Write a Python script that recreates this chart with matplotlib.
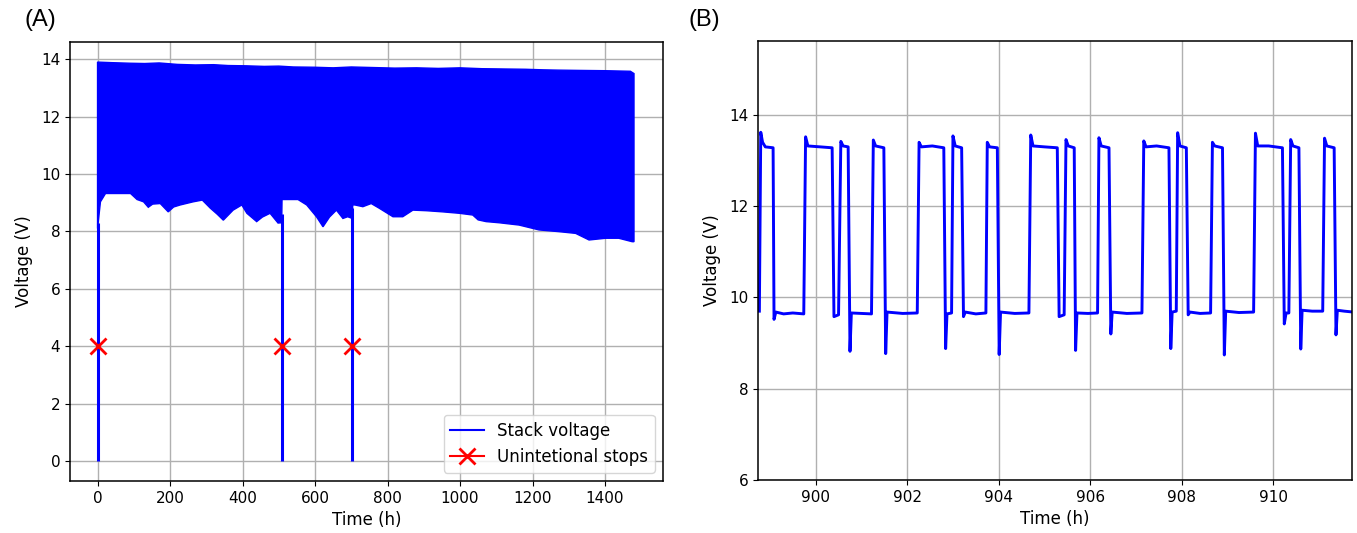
import numpy as np
import matplotlib
matplotlib.use("Agg")
import matplotlib.pyplot as plt
from matplotlib.lines import Line2D

plt.rcParams['font.family'] = ['DejaVu Sans']
plt.rcParams['font.size'] = 11

# (A) whole test: envelope of the stack voltage (time h, voltage V)
upper_env = [(0, 13.90), (40, 13.88), (90, 13.86), (130, 13.85), (170, 13.87), (220, 13.82),
             (270, 13.80), (320, 13.81), (360, 13.78), (410, 13.77), (460, 13.75), (500, 13.76),
             (540, 13.73), (600, 13.72), (650, 13.70), (700, 13.73), (760, 13.71), (820, 13.69),
             (880, 13.70), (940, 13.68), (1000, 13.70), (1060, 13.67), (1120, 13.66), (1180, 13.65),
             (1230, 13.63), (1270, 13.62), (1330, 13.61), (1400, 13.60), (1470, 13.58), (1480, 13.50)]
lower_env = [(0, 8.10), (8, 9.03), (22, 9.32), (58, 9.32), (91, 9.32), (109, 9.11), (127, 9.03),
             (140, 8.84), (152, 8.95), (173, 8.97), (195, 8.68), (210, 8.85), (228, 8.92),
             (264, 9.03), (289, 9.09), (311, 8.81), (330, 8.60), (347, 8.39), (374, 8.74),
             (398, 8.92), (412, 8.63), (439, 8.34), (455, 8.50), (476, 8.63), (498, 8.29),
             (508, 8.30), (509, 9.11), (522, 9.11), (553, 9.11), (577, 8.92), (604, 8.51),
             (622, 8.16), (640, 8.50), (659, 8.74), (677, 8.45), (690, 8.51), (703, 8.45),
             (704, 8.92), (710, 8.92), (732, 8.86), (755, 8.97), (778, 8.80), (815, 8.51),
             (842, 8.51), (870, 8.74), (907, 8.72), (952, 8.68), (998, 8.63), (1035, 8.57),
             (1050, 8.40), (1072, 8.34), (1108, 8.30), (1163, 8.22), (1218, 8.05), (1273, 7.99),
             (1319, 7.93), (1356, 7.70), (1402, 7.76), (1438, 7.76), (1475, 7.64), (1480, 7.64)]
stop_t = [0, 508, 703]
stop_v = [4, 4, 4]
stop_top = [8.3, 8.6, 8.8]

# (B) zoom 898.8 - 911.7 h
zoom_trace = [(898.77, 9.70), (898.80, 13.62), (898.84, 13.40), (898.90, 13.30), (899.07, 13.28),
              (899.09, 9.52), (899.13, 9.68), (899.30, 9.64), (899.50, 9.66), (899.74, 9.64),
              (899.78, 13.52), (899.83, 13.32), (900.10, 13.30), (900.36, 13.28), (900.40, 9.58),
              (900.50, 9.62), (900.55, 13.42), (900.60, 13.32), (900.71, 13.30), (900.75, 8.82),
              (900.78, 9.66), (901.00, 9.65), (901.22, 9.64), (901.26, 13.45), (901.31, 13.32),
              (901.49, 13.28), (901.53, 8.77), (901.56, 9.68), (901.90, 9.65), (902.22, 9.66),
              (902.26, 13.40), (902.31, 13.30), (902.55, 13.32), (902.80, 13.28), (902.84, 8.88),
              (902.87, 9.64), (902.97, 9.66), (903.00, 13.54), (903.05, 13.32), (903.19, 13.28),
              (903.23, 9.58), (903.27, 9.68), (903.50, 9.64), (903.72, 9.66), (903.75, 13.40),
              (903.80, 13.30), (903.97, 13.28), (904.01, 8.75), (904.04, 9.68), (904.35, 9.65),
              (904.66, 9.66), (904.70, 13.56), (904.75, 13.32), (905.00, 13.30), (905.28, 13.28),
              (905.32, 9.58), (905.43, 9.62), (905.47, 13.46), (905.52, 13.32), (905.65, 13.28),
              (905.68, 8.84), (905.71, 9.66), (905.95, 9.65), (906.16, 9.66), (906.19, 13.50),
              (906.24, 13.32), (906.41, 13.28), (906.45, 9.20), (906.48, 9.68), (906.80, 9.65),
              (907.13, 9.66), (907.17, 13.43), (907.22, 13.30), (907.45, 13.32), (907.72, 13.28),
              (907.76, 8.88), (907.79, 9.68), (907.88, 9.70), (907.91, 13.61), (907.96, 13.32),
              (908.10, 13.28), (908.14, 9.62), (908.18, 9.68), (908.40, 9.65), (908.63, 9.66),
              (908.67, 13.40), (908.72, 13.32), (908.89, 13.28), (908.93, 8.74), (908.96, 9.70),
              (909.25, 9.67), (909.57, 9.68), (909.61, 13.60), (909.66, 13.32), (909.90, 13.32),
              (910.20, 13.28), (910.24, 9.42), (910.28, 9.66), (910.34, 9.66), (910.38, 13.46),
              (910.43, 13.32), (910.56, 13.28), (910.60, 8.87), (910.63, 9.72), (910.85, 9.70),
              (911.08, 9.70), (911.12, 13.49), (911.17, 13.32), (911.33, 13.28), (911.37, 9.18),
              (911.40, 9.72), (911.55, 9.70), (911.75, 9.68)]

W, H = 1357, 533
fig = plt.figure(figsize=(W / 100, H / 100), dpi=100)
ax1 = fig.add_axes([70 / W, 1 - 481 / H, (663 - 70) / W, (481 - 42) / H])
ax2 = fig.add_axes([758 / W, 1 - 480 / H, (1352 - 758) / W, (480 - 41) / H])

# panel A
up = np.array(upper_env)
lo = np.array(lower_env)
poly_t = np.concatenate([up[:, 0], lo[::-1, 0]])
poly_v = np.concatenate([up[:, 1], lo[::-1, 1]])
ax1.fill(poly_t, poly_v, color='blue', lw=1.0, zorder=2)
ax1.vlines(stop_t, 0, stop_top, color='blue', lw=2.2, zorder=2)
ax1.plot(stop_t, stop_v, 'x', color='red', ms=11, mew=2, zorder=3)
ax1.set_xlim(-76, 1560)
ax1.set_ylim(-0.7, 14.6)
ax1.set_xticks(np.arange(0, 1401, 200))
ax1.set_yticks(np.arange(0, 15, 2))
ax1.set_xlabel('Time (h)', fontsize=12)
ax1.set_ylabel('Voltage (V)', fontsize=12, labelpad=6)
handles = [Line2D([], [], color='blue', lw=1.5, label='Stack voltage'),
           Line2D([], [], color='red', lw=1.5, marker='x', ms=11, mew=2, label='Unintetional stops')]
ax1.legend(handles=handles, loc='lower right', fontsize=12)

# panel B
zt = np.array(zoom_trace)
ax2.plot(zt[:, 0], zt[:, 1], color='blue', lw=2.1)
ax2.set_xlim(898.74, 911.72)
ax2.set_ylim(6, 15.62)
ax2.set_xticks(np.arange(900, 911, 2))
ax2.set_yticks(np.arange(6, 15, 2))
ax2.set_xlabel('Time (h)', fontsize=12)
ax2.set_ylabel('Voltage (V)', fontsize=12, labelpad=6)

for ax in (ax1, ax2):
    ax.grid(True, color='#b0b0b0', lw=1.0)
    ax.set_axisbelow(True)
    for s in ax.spines.values():
        s.set_linewidth(1.1)

fig.text(24 / W, 1 - 20 / H, '(A)', family='Liberation Sans', fontsize=17, va='center')
fig.text(688 / W, 1 - 20 / H, '(B)', family='Liberation Sans', fontsize=17, va='center')

fig.savefig('out.png', dpi=100)
